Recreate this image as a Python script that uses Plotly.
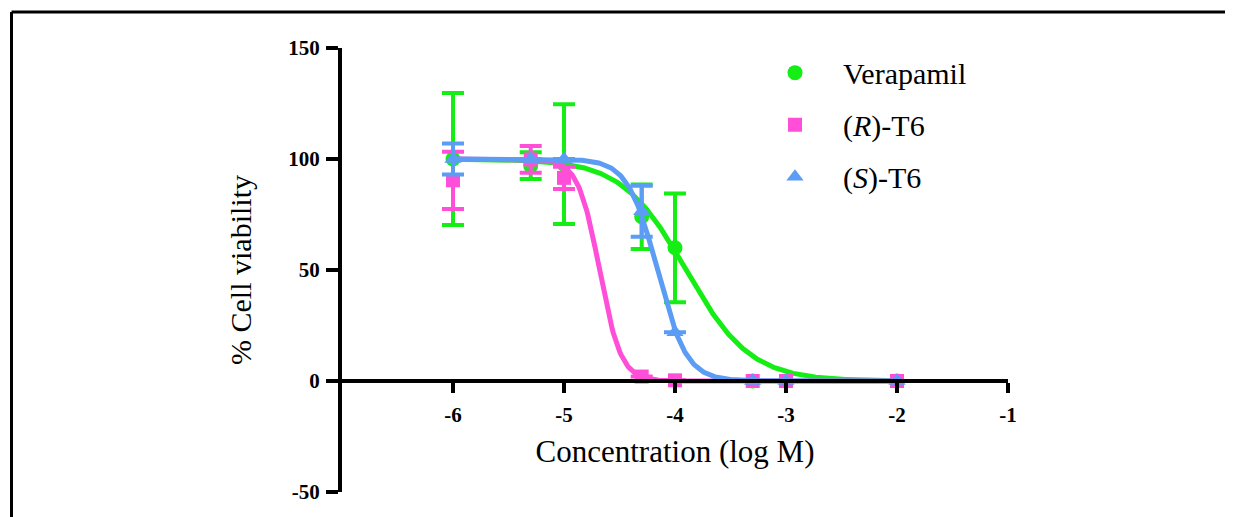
import numpy as np
import plotly.graph_objects as go

# ---- data ----
log_conc = [-6, -5.3, -5, -4.3, -4, -3.3, -3, -2]

verapamil_mean = [100, 97, 97.7, 74, 60, 0, 0, 0]
verapamil_err = [29.7, 6, 27, 14.5, 24.5, None, None, None]

r_t6_mean = [90.4, 99.8, 91.5, 2, 0.3, 0, 0, 0]
r_t6_err = [12.9, 6, 5, None, None, None, None, None]

s_t6_mean = [100, 100, 100, 76.5, 22, 0, 0, 0]
s_t6_err = [7, None, None, 11.5, None, None, None, None]

# fitted dose-response parameters
verapamil_fit = dict(top=100, bottom=0, log_ic50=-3.9, hill=1.5)
r_t6_fit = dict(top=100, bottom=0, log_ic50=-4.68, hill=4.5)
s_t6_fit = dict(top=100, bottom=0, log_ic50=-4.16, hill=3.3)
fit_range = [-6, -2]

x_ticks = [-6, -5, -4, -3, -2, -1]
y_ticks = [-50, 0, 50, 100, 150]

GREEN = "#14EE14"
PINK = "#FF4FD9"
BLUE = "#5B9CF5"
FONT = "Liberation Serif"

# page offset of the figure in the browser (body margin)
OFF = 8
L, T = 342 - OFF, 48 - OFF
PW, PH = 666, 444


def curve(p, x):
    x = np.asarray(x)
    return p["bottom"] + (p["top"] - p["bottom"]) / (1 + 10 ** (p["hill"] * (x - p["log_ic50"])))


xfit = np.linspace(fit_range[0], fit_range[1], 400)

fig = go.Figure()

series = [
    ("Verapamil", verapamil_mean, verapamil_err, verapamil_fit, GREEN, "circle", 15),
    ("(<i>R</i>)-T6", r_t6_mean, r_t6_err, r_t6_fit, PINK, "square", 14),
    ("(<i>S</i>)-T6", s_t6_mean, s_t6_err, s_t6_fit, BLUE, "triangle-up", 15),
]

for i, (name, mean, err, fit, color, symbol, size) in enumerate(series):
    fig.add_trace(go.Scatter(
        x=log_conc, y=mean, mode="markers", name=name,
        legendgroup=f"g{i}",
        marker=dict(color=color, symbol=symbol, size=size),
        error_y=dict(type="data", array=err, visible=True, color=color,
                     thickness=4, width=11),
    ))
    fig.add_trace(go.Scatter(
        x=xfit, y=curve(fit, xfit), mode="lines", showlegend=False,
        legendgroup=f"g{i}",
        line=dict(color=color, width=5), hoverinfo="skip",
    ))

frame_y = (PH + T - (12 - OFF)) / PH
frame_x = -(L - (11.5 - OFF)) / PW

fig.update_layout(
    width=1233, height=517,
    margin=dict(l=L, r=1233 - L - PW, t=T, b=517 - T - PH),
    paper_bgcolor="white", plot_bgcolor="white",
    font=dict(family=FONT, color="black"),
    showlegend=True,
    legend=dict(
        x=(747 - OFF - L) / PW, y=1.003, xanchor="left", yanchor="top",
        font=dict(family=FONT, size=30, color="black"),
        tracegroupgap=10, itemwidth=86, bgcolor="rgba(0,0,0,0)",
    ),
    xaxis=dict(
        range=[-7, -1], tickvals=x_ticks, ticktext=[str(v) for v in x_ticks],
        showline=True, linecolor="black", linewidth=4,
        ticks="outside", ticklen=10, tickwidth=4, tickcolor="black",
        anchor="free", position=0.25,
        showgrid=False, zeroline=False,
        tickfont=dict(family=FONT, size=21, color="black", weight="bold"),
        ticklabelstandoff=4,
        title=dict(text="Concentration (log M)",
                   font=dict(family=FONT, size=31, color="black"), standoff=13),
    ),
    yaxis=dict(
        range=[-50, 150], tickvals=y_ticks, ticktext=[str(v) for v in y_ticks],
        showline=True, linecolor="black", linewidth=4,
        ticks="outside", ticklen=12, tickwidth=4, tickcolor="black",
        showgrid=False, zeroline=False,
        tickfont=dict(family=FONT, size=21, color="black", weight="bold"),
        ticklabelstandoff=2,
        title=dict(text="% Cell viability",
                   font=dict(family=FONT, size=30, color="black"), standoff=29),
    ),
    shapes=[
        dict(type="line", xref="paper", yref="paper", x0=frame_x, x1=(1240 - L) / PW,
             y0=frame_y, y1=frame_y, line=dict(color="black", width=3)),
        dict(type="line", xref="paper", yref="paper", x0=frame_x, x1=frame_x,
             y0=frame_y, y1=-(517 - T - PH) / PH, line=dict(color="black", width=3)),
    ],
)

fig.write_html("out.html")
